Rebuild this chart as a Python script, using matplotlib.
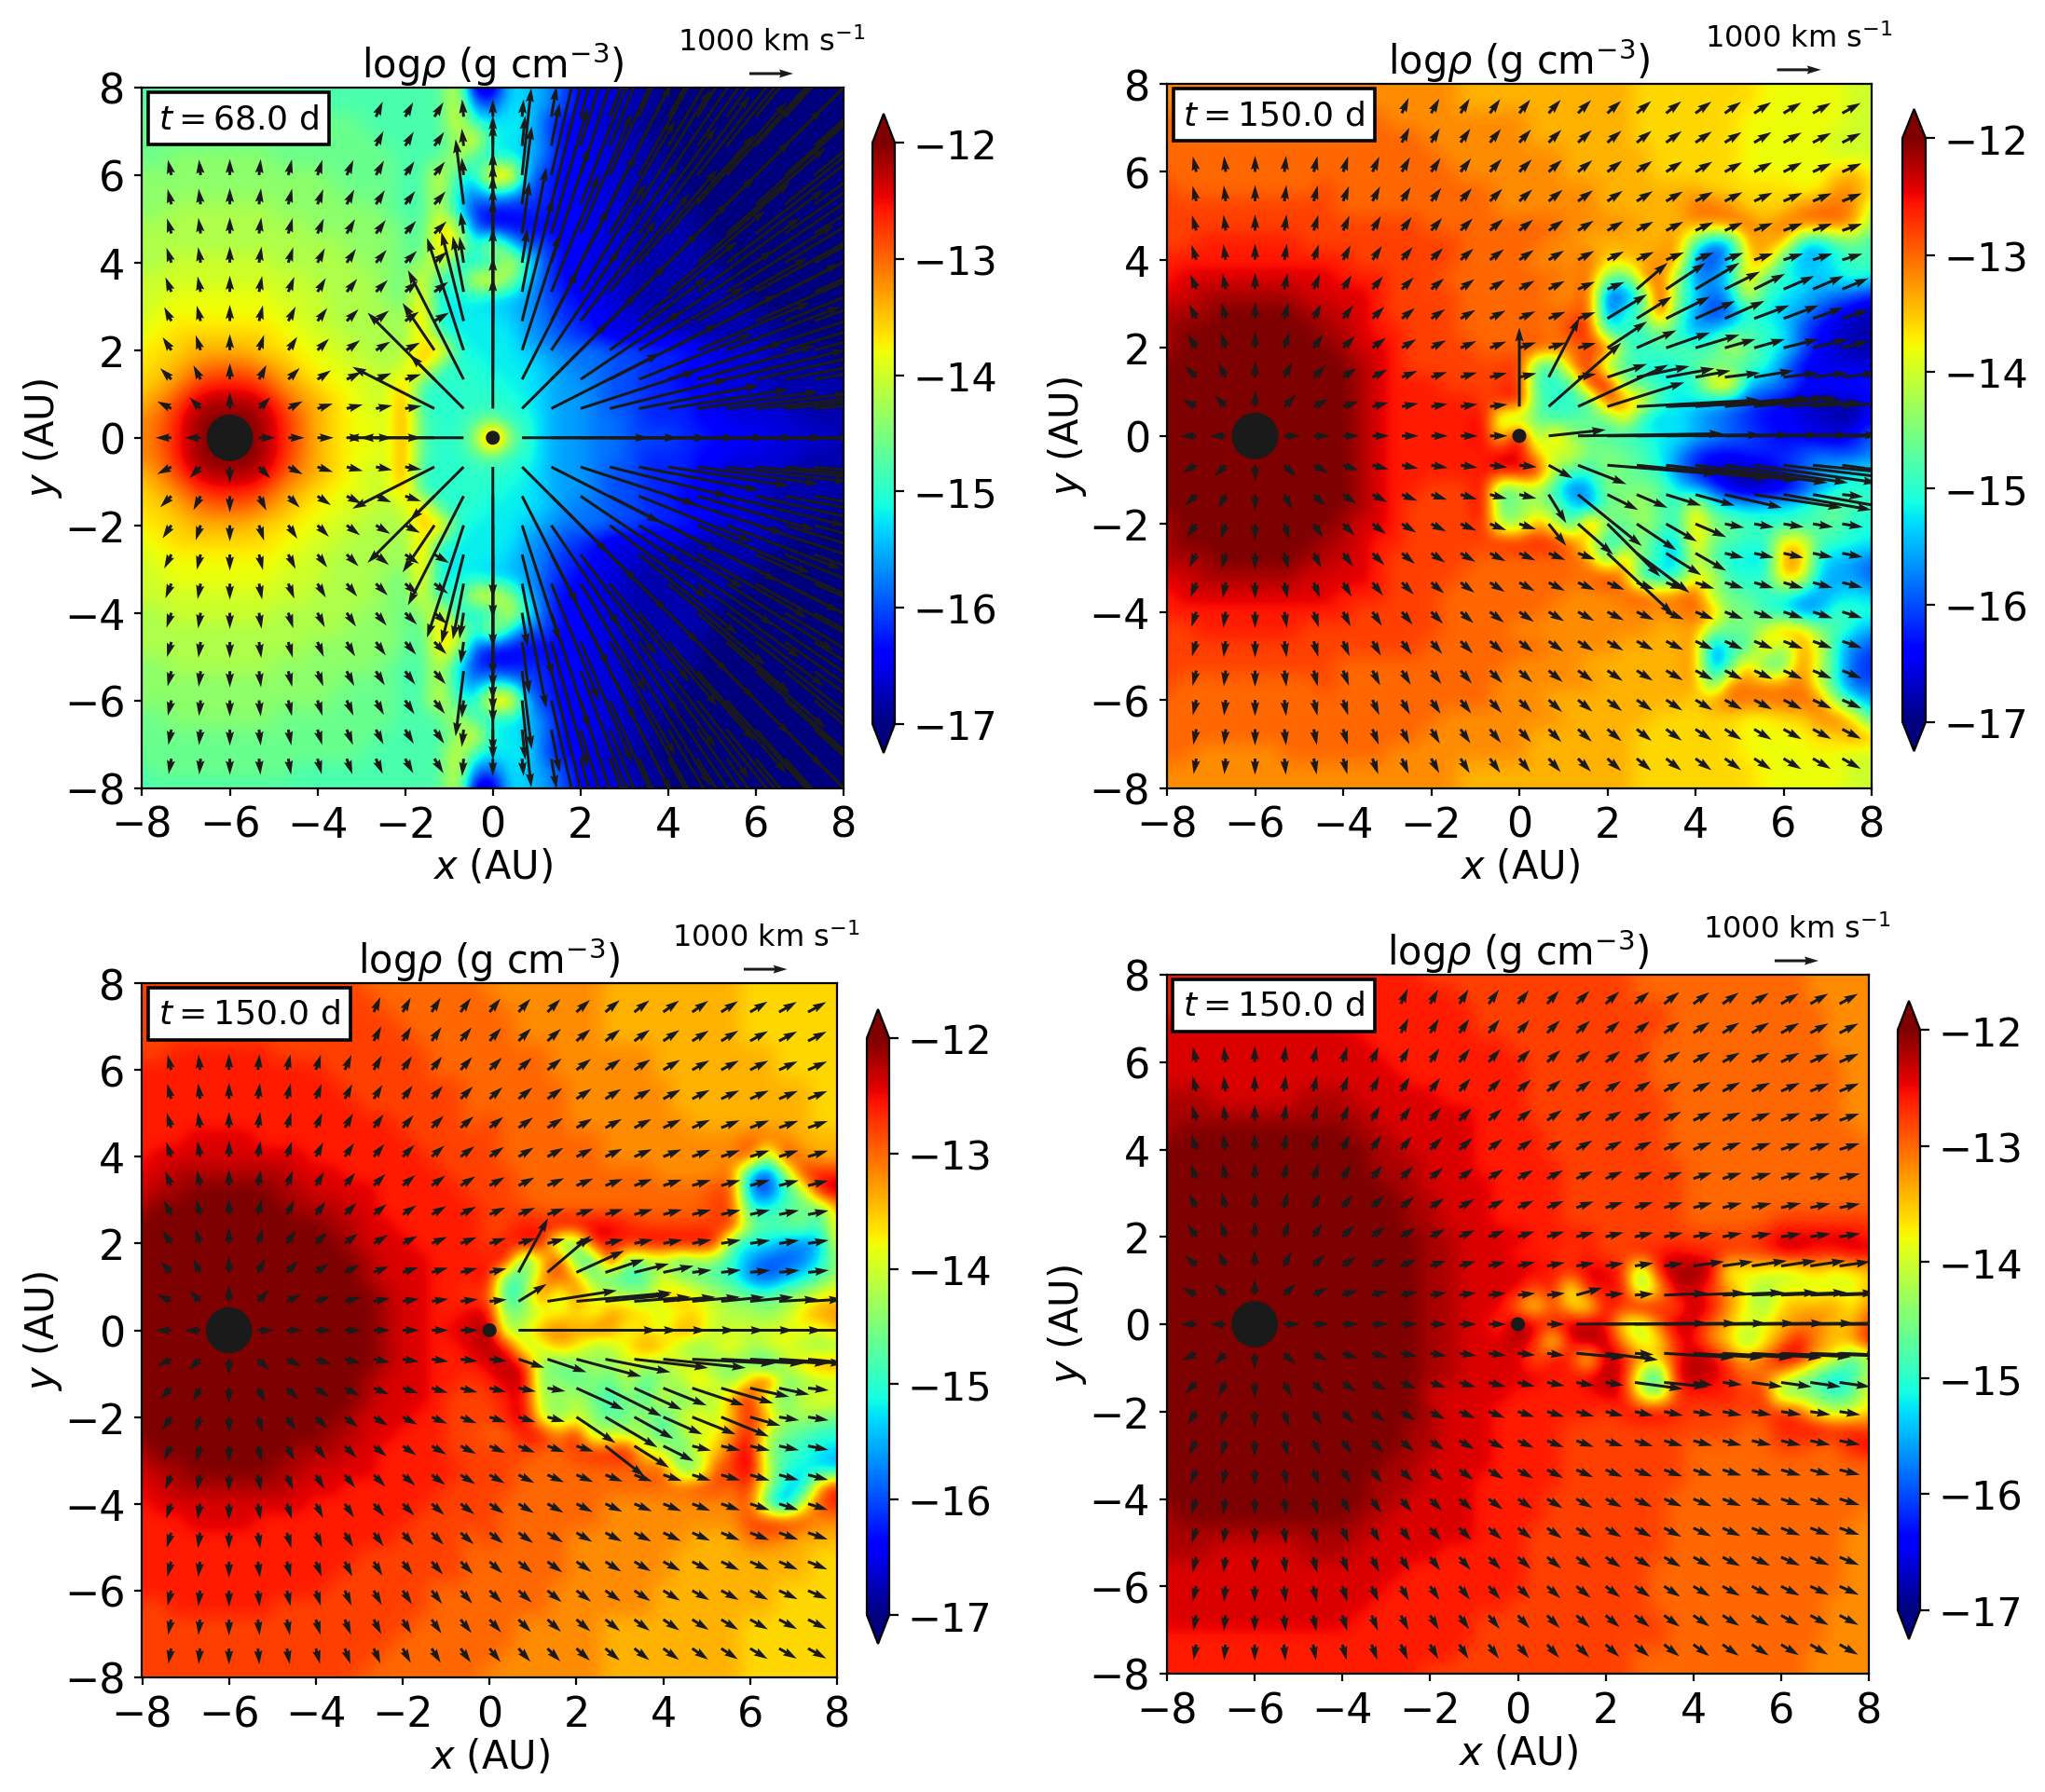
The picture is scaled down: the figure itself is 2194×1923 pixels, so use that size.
import numpy as np
import matplotlib
matplotlib.use("Agg")
import matplotlib.pyplot as plt

W, H = 2194, 1924
LOG_MIN, LOG_STEP = -17.0, 0.2   # a = -17.0, b = -16.8 ... z = -12.0
TICKS = [-8, -6, -4, -2, 0, 2, 4, 6, 8]
CB_TICKS = [-12, -13, -14, -15, -16, -17]
TIMES = ["68.0", "150.0", "150.0", "150.0"]

# log density, one letter per 0.4 AU, rows y = 8 ... -8, blocks of 2 AU
RHO1_TOP = [
    "lllll lllll lllll lllqb bjihf dccbb aaaaa aaaaa a",
    "lmmmm mmmml lllll lllqg fjihf dccbb aaaaa aaaaa a",
    "mmmmm mmmmm mmmll lllqk jjjfd dcbba aaaaa aaaaa a",
    "mmmmm mmmmm mmmml lllnr jjigd dccbb aaaaa aaaaa a",
    "mmnnn nnnmm mmmmm lllpk jjigd dccbb aaaaa aaaaa a",
    "nnnnn nnnnn nmmmm llqkj tthed dccbb baaaa aaaaa a",
    "nnnnn nnnnn nnmmm llpjg jifed dccbb baaaa aaaaa a",
    "nnooo ooonn nnnnm llpje ddeed dccbb bbaaa aaaaa a",
    "ooooo ooooo nnnnn mlrpf ddddd dccbb bbaaa aaaaa a",
    "ooooo ooooo oonnn mlsqj qjffd dccbb bbbaa aaaaa a",
    "ooppp pppoo ooonn mnqjj jqkfd dccbb bbbaa aaaaa a",
    "ppppp ppppp oooon mqkkq rnifd dccbb bbbba aaaaa a",
    "ppqqq qqqpp pooon mrjjj iihfe dccbb bbbbb aaaaa a",
    "pqqqq qqqqp poooo nsjjj jihge edccb bbbbb baaaa a",
    "qqrrr rrrqq ppooo nskjj jjhgf edccc cbbbb bbaaa a",
    "qrrss ssrrq qppoo ortkj jjihg ggffe eedcc cbbba a",
    "rrstu uutsr qqppo ptkkk jjjih ggffe eddcc cbbbb a",
    "rstvw wwvts rqqpp skkkk kjjih hgffe eddcc cbbbb b",
    "stvxy yyxvt srqpp tkkkk kkjih hgffe eedcc ccbbb b",
    "tuwyz zzywu srqqp tlkkl mkkih hggfe eeddc cccbb b",
    "tuwyz zzywu srqqp tlkkn ynkih hggff feedd dcccc b",
]
RHO1 = RHO1_TOP + RHO1_TOP[-2::-1]

RHO2 = [
    "ttttt ttttt ttttt ttsss sssss ssrrr rrrrq qqqqp p",
    "ttttt ttttt ttttt ttsss sssss ssrrr rrrrq qqqqp p",
    "uuttt ttuuu uuutt ttttt tssss ssrrr rrrqq qqqqp p",
    "uuuuu uuuuu uuuuu ttttt tssss ssrrr rrrqq qqqpp p",
    "uuuuu uuuuu uuuuu utttt tttss sssrr rrrqq qqqpp p",
    "uuuuu uuuuu uuuuu uuttt tttss sssrr rrrqq qqqrs q",
    "vuuuu uuuuv uuuuu uuuut ttttt sssss srrrr rqqtt r",
    "vvvvv vvvvv uuuuu uuuut ttttt sssss uutrr rtuut p",
    "vvvvv vvvvv vvvvv uuuuu uuutt ttsss ttuus uuuut n",
    "vvwww wwwvv vvvvv vvuuu uutts sssst lghts tjhlm k",
    "wwwww wwwww wvvvv vvuuu utttu rsstt geirt khijl l",
    "wxxxx xxxxx wwwvv vuuuu uuutu nktun ghjsl kjijk j",
    "xxyyy yyyxx xxwvv vvuuu uuttv egkxm jfiqk jihgf e",
    "yyyzz zzzyy xxwvv vvuuu uuuuv fklwl hefkj ihfdc b",
    "yzzzz zzzzy yxwwv vvuuu uutww jkknk hiklk jfdcb b",
    "yzzzz zzzzz yxxwv vvvuu uvutv wlkll llqmk jgdcb b",
    "zzzzz zzzzz zyxwv vvvvv wlkuw mlkjk lmklk gdccc c",
    "zzzzz zzzzz zyxww wvvvv wkkkx xmlkj kstih gedee e",
    "zzzzz zzzzz zyxww wwwvw xlkkk wtrkj jihfe dcbbb d",
    "zzzzz zzzzz zyxww wwwxn nmklm lrjij hgfed dccbb d",
    "zzzzz zzzzz zyxww wwwxq zmtnm lkkjj ihgfe ddccd g",
    "zzzzz zzzzz zyxww wwwwx xroqm nmljh eddee efgff g",
    "zzzzz zzzzz zyxww wwwwx xxolk nmlkg ecbbc efhij j",
    "zzzzz zzzzz zyxww vvvxk nokfh nmnmj hfcbb cehjk k",
    "zzzzz zzzzz zyxwv vvvxl nomjg mnolk rkjij jklml k",
    "yzzzz zzzzz yxxwv vvvwn ntpjw nlomk snmlk kklmj k",
    "yzzzz zzzzy yxwwv vvvvw wwwup jlnji smlkk rrlkk j",
    "yyyzz zzzyy xxwvv vvvuu uuuut ltmkh qljji ttjih g",
    "xxyyy yyyxx xxwvv vvuuu uuuuu wtjik qpkkk srihh f",
    "wxxxx xxxxx wwwvv vuuuu uuutt tuvtu vnmlk kihij i",
    "wwwww wwwww wvvvv vuuuu uuttt ttttt utmnk jghlk k",
    "vvwww wwwvv vvvvv vuuuu ttttt tttss tnmmp tsnlj h",
    "vvvvv vvvvv vvvvv uuuuu uuttt tssss tflkt mtqjg f",
    "vvvvv vvvvv uuuuu uuuuu tttts sssss tgktk lupkf e",
    "vuuuu uuuuv uuuuu uuuut ttttt sssss tkutt tupjf f",
    "uuuuu uuuuu uuuuu uuuut ttsss sssss rtuuu uuunj h",
    "uuuuu uuuuu uuuuu utttt tttss sssrr rrrqq rrtur k",
    "uuuuu uuuuu uuuuu ttttt tssss ssrrr rrrqq qqrrt s",
    "uuttt ttuuu uuutt ttttt tssss ssrrr rrrqq qqqqp p",
    "ttttt ttttt ttttt ttsss sssss ssrrr rrrrq qqqqp p",
    "ttttt ttttt ttttt ttsss sssss ssrrr rrrrq qqqqp p",
]

RHO3 = [
    "vvvvv vvvvv vvvuu uuuuu ttttt ttsss sssss rrrrr r",
    "vvvvv vvvvv vvvvu uuuuu utttt ttsss sssss rrrrr r",
    "vvvvv vvvvv vvvvv uuuuu uuttt ttsss sssss rrrrr r",
    "vvvvv vvvvv vvvvv vuuuu uuttt ttsss sssss rrrrr r",
    "vvwww wwwvv vvvvv vvuuu uuuut ttttt sssss ssrrr r",
    "wwwww wwwww wvvvv vvuuu uuuut ttttt sssss ssrrr r",
    "wwwww wwwww wwvvv vvvvu uuuuu ttttt tssss ssssr r",
    "wwwww wwwww wwwvv vvvvu uuuuu ttttt tssss ssssr r",
    "wwwww wwwww wwwww vvvvu vuuuu ttttt ttsss ssssr r",
    "wwwxx xxwww wwwww wvvvv vuuuu uuttt ttttt uutss s",
    "wxxxx xxxxx wwwww wwvvv vuuuu uuttt ttttt wmwts s",
    "xxyyy yyyyx xxwww wwwvv vvuuu uuuuu ttttu hemww w",
    "xyyzz zzzyy xxxxw wwwwv vvuuu uuuuu uuuvv geknx y",
    "yzzzz zzzzy yyxxw wwwww vvvuu uuuuu uuuvv kklml s",
    "zzzzz zzzzz zyyxx wwwww vvwwx xxxwv vvvvw nlmnk r",
    "zzzzz zzzzz zzyxx xwwww vwxxm lxwwx xxxxk jjhgh q",
    "zzzzz zzzzz zzzyx xxwww wxkqx lkxln olnmk hffgj n",
    "zzzzz zzzzz zzzyx xxwww xkltv tmlkl qnmlk gfhjl o",
    "zzzzz zzzzz zzzzy xxwwv vjmvn uqpon rsqon mlnoq r",
    "zzzzz zzzzz zzzzy xxwwx xmnpq rptsr pqrpo onort t",
    "zzzzz zzzzz zzzzy xxwxx znptu sutpr ptsop ppqqp s",
    "zzzzz zzzzz zzzzy xxwwx yxops rnort sompr npqon n",
    "zzzzz zzzzz zzzzy xxwww xyxnl monpo nqpnm njort t",
    "zzzzz zzzzz zzzyx xxwwv wxymo lnlpk onspn sxmno o",
    "zzzzz zzzzz zzzyx xxwvv vwxon pmknl qmnot xnmpq q",
    "zzzzz zzzzz zzyxx xwwvv vwypm pnlmo kpros wtnon m",
    "zzzzz zzzzz zyyxx wwwvv uuwxt xnpon lnpqt xomlk k",
    "yzzzz zzzzy yyxxw wwwvv vvvuu vwwxq plqrv ynlkj i",
    "xyyzz zzzyy xxxxw wwwwv vvuuu uuuuu vmmvv ypkji h",
    "xxyyy yyyyx xxwww wwwvv vvuuu uuuuu uuvvu wojht x",
    "wxxxx xxxxx wwwww wwvvv vuuuu uuttt ttttt vkfpv w",
    "wwwxx xxwww wwwww wvvvv vuuuu uuttt ttttt vwwvt t",
    "wwwww wwwww wwwww vvvvu vuuuu ttttt ttsss uutss s",
    "wwwww wwwww wwwvv vvvvu uuuuu ttttt tssss ssssr r",
    "wwwww wwwww wwvvv vvvvu uuuuu ttttt tssss ssssr r",
    "wwwww wwwww wvvvv vvuuu uuuut ttttt sssss ssrrr r",
    "vvwww wwwvv vvvvv vvuuu uuuut ttttt sssss ssrrr r",
    "vvvvv vvvvv vvvvv vuuuu uuttt ttsss sssss rrrrr r",
    "vvvvv vvvvv vvvvv uuuuu uuttt ttsss sssss rrrrr r",
    "vvvvv vvvvv vvvvu uuuuu utttt ttsss sssss rrrrr r",
    "vvvvv vvvvv vvvuu uuuuu ttttt ttsss sssss rrrrr r",
]

RHO4 = [
    "wwwww wwwww wwwww vvvvv vvvvv vvuuu uuuuu uuttt t",
    "wwwww wwwww wwwww wwvvv vvvvv vvuuu uuuuu uuttt t",
    "wwwww wwwww wwwww wwwvv vvvvv vvvvu uuuuu uuutt t",
    "xxxxx xxxxx xwwww wwwvv vvvvv vvvvu uuuuu uuutt t",
    "xxxxx xxxxx xxwww wwwww vvvvv vvvuu uuuuu uuutt t",
    "xxxxx xxxxx xxxww wwwww wvvvv vvvuu uuuuu uuuut t",
    "xxxxx xxxxx xxxxw wwwww wvvvv vvvuu uuuuu uuuut t",
    "yyyxx xxxyy yxxxx xwwww wvvvv vvvvu uuuuu uuuut t",
    "yyyyy yyyyy yyxxx xxxww wvvvv vvvvu uuuuu uuuut t",
    "yzzzz zzzzz zyyxx xxxww wwvvv vvvvu uuuuu uuuuu t",
    "zzzzz zzzzz zzyyx xxxww wwvvv vvvvu uuuuu uuuuu u",
    "zzzzz zzzzz zzyyy xxxww wwwvv vvvvv uuuuu uuuuu u",
    "zzzzz zzzzz zzzyy xxxxw wwwvv vvvvv uuuuu uuuuu u",
    "zzzzz zzzzz zzzzy yxxxw wwwvv vvvvv uuuuu uuuuu u",
    "zzzzz zzzzz zzzzy yxxxw wwwvv vvvvv uuuuu vvvvv v",
    "zzzzz zzzzz zzzzz yyxxx xwwww vvvvv vvvvw xxxxx w",
    "zzzzz zzzzz zzzzz yyxxx wwwvw vvwwx wwvvv xxwwx x",
    "zzzzz zzzzz zzzzz yyxxx xxwwx xwlxy zypqq oprpq r",
    "zzzzz zzzzz zzzzz yyxxx xuxox wxmry xvtqn qqpqp s",
    "zzzzz zzzzz zzzzz yyxxx tqvrp xvywu yxtqn rsstq t",
    "zzzzz zzzzz zzzzz yyxxv zxwyy xqnuy xuspq sturs v",
    "zzzzz zzzzz zzzzz yyxxx ywpxy ytpqw xtrnq txtss x",
    "zzzzz zzzzz zzzzz yyxxx xuxwp yxtrw yyvsu yxsqk n",
    "zzzzz zzzzz zzzzz yyxxx xxwwx yxnix yxwuu rnlik p",
    "zzzzz zzzzz zzzzz xxxxx wwwww xxpmv wwwvw mnmkl q",
    "zzzzz zzzzz zzzzz yxxxw wwwww vwxxw vvvvv wvqop r",
    "zzzzz zzzzz zzzzy yxxxw wwwvv vvvvv vvvuu wwxww v",
    "zzzzz zzzzz zzzzy yxxxw wwwvv vvvvv uuuuu vvuuw x",
    "zzzzz zzzzz zzzyy xxxxw wwwvv vvvvv uuuuu uuuuu u",
    "zzzzz zzzzz zzyyy xxxww wwwvv vvvvv uuuuu uuuuu u",
    "zzzzz zzzzz zzyyx xxxww wwvvv vvvvu uuuuu uuuuu u",
    "yzzzz zzzzz zyyxx xxxww wwvvv vvvvu uuuuu uuuuu t",
    "yyyyy yyyyy yyxxx xxxww wvvvv vvvvu uuuuu uuuut t",
    "yyyxx xxxyy yxxxx xwwww wvvvv vvvvu uuuuu uuuut t",
    "xxxxx xxxxx xxxxw wwwww wvvvv vvvuu uuuuu uuuut t",
    "xxxxx xxxxx xxxww wwwww wvvvv vvvuu uuuuu uuuut t",
    "xxxxx xxxxx xxwww wwwww vvvvv vvvuu uuuuu uuutt t",
    "xxxxx xxxxx xwwww wwwvv vvvvv vvvvu uuuuu uuutt t",
    "wwwww wwwww wwwww wwwvv vvvvv vvvvu uuuuu uuutt t",
    "wwwww wwwww wwwww wwvvv vvvvv vvuuu uuuuu uuttt t",
    "wwwww wwwww wwwww vvvvv vvvvv vvuuu uuuuu uuttt t",
]

# arrow direction in degrees on the 0.667 AU grid, rows |y| = 0 ... 7.33, columns x = -7.33 ... 7.33
ANG = [
    [180, 180, 0, 0, 0, 0, 0, 0, 0, 0, 0, 0, 0, 0, 0, 0, 0, 0, 0, 0, 0, 0, 0],
    [153, 135, 90, 45, 27, 18, 14, 11, 9, 8, 7, 6, 6, 5, 5, 4, 4, 4, 4, 3, 3, 3, 3],
    [135, 117, 90, 63, 45, 34, 27, 22, 18, 16, 14, 13, 11, 10, 9, 9, 8, 8, 7, 7, 6, 6, 6],
    [124, 108, 90, 72, 56, 45, 37, 31, 27, 23, 21, 18, 17, 15, 14, 13, 12, 11, 11, 10, 9, 9, 9],
    [117, 104, 90, 76, 63, 53, 45, 39, 34, 30, 27, 24, 22, 20, 18, 17, 16, 15, 14, 13, 13, 12, 11],
    [112, 101, 90, 79, 68, 59, 51, 45, 40, 36, 32, 29, 27, 24, 23, 21, 20, 18, 17, 16, 16, 15, 14],
    [108, 99, 90, 81, 72, 63, 56, 50, 45, 41, 37, 34, 31, 29, 27, 25, 23, 22, 21, 19, 18, 18, 17],
    [106, 98, 90, 82, 74, 67, 60, 54, 49, 45, 41, 38, 35, 32, 30, 28, 27, 25, 24, 22, 21, 20, 19],
    [104, 97, 90, 83, 76, 69, 63, 58, 53, 49, 45, 42, 39, 36, 34, 32, 30, 28, 27, 25, 24, 23, 22],
    [103, 96, 90, 84, 77, 72, 66, 61, 56, 52, 48, 45, 42, 39, 37, 35, 33, 31, 29, 28, 27, 25, 24],
    [101, 96, 90, 84, 79, 73, 68, 63, 59, 55, 51, 48, 45, 42, 40, 38, 36, 34, 32, 31, 29, 28, 27],
    [100, 95, 90, 85, 80, 75, 70, 66, 61, 58, 54, 51, 48, 45, 42, 40, 38, 36, 35, 33, 31, 30, 29],
]
# usual arrow length in AU per column (1 AU on the page = 1000 km/s)
SPEED = [0.36, 0.36, 0.37, 0.37, 0.37, 0.37, 0.38, 0.38, 0.38, 0.39, 0.40, 0.40, 0.41, 0.42,
         0.42, 0.43, 0.44, 0.45, 0.45, 0.46, 0.47, 0.47, 0.48]

# panel 1: arrows from the companion, rows |y| = 0 ... 7.33, columns x = -1.33 ... 7.33,
# length in tenths of AU (base 36), 0 keeps the usual arrow
SPEED1 = [
    "hr0ttttttttttt",
    "lvusssssssssss",
    "8sssssssssssss",
    "drssssssssssss",
    "0lsttttttttttt",
    "0dottttttttttt",
    "06k8ssssssssss",
    "05gcuuuuuuuuuu",
    "0fcivvvvvvvvvv",
    "04ckwwwwwwwwww",
    "0477awwwwwwwww",
    "04447awwwwwwww",
]

# other panels: arrows that stand out, (column, row, dx, dy) with x = 0.667 column, y = 0.667 row
LONG2 = [
    (0, 1, 0, 1.8), (1, 2, .7, 1.35), (1, 1, 1.65, 1.45), (2, 1, 2.05, .95), (3, 1, 1.75, .55),
    (4, 1, 2.8, .15), (5, 1, 2.7, .1), (6, 1, 2.6, .2), (7, 1, 2.3, .2), (8, 1, 1.9, .2),
    (9, 1, 1.4, .1), (10, 1, 1.1, .1), (11, 1, 1, .1),
    (1, 0, 1.3, .14), (2, 0, 3.3, .05), (3, 0, 3.5, .02), (4, 0, 3.5, .02), (5, 0, 3.5, .02),
    (6, 0, 3.5, .02), (7, 0, 3.5, .02), (8, 0, 3.5, .02), (9, 0, 3.5, .02), (10, 0, 3.5, 0), (11, 0, 3.5, 0),
    (1, -1, .55, -.3), (2, -1, 1.1, -.43), (3, -1, 2.5, -.2), (4, -1, 3, -.3), (5, -1, 3, -.35),
    (6, -1, 3, -.4), (7, -1, 2.8, -.4), (8, -1, 2.8, -.4), (9, -1, 2.5, -.3), (10, -1, 2, -.2), (11, -1, 1.5, -.2),
    (3, 2, .9, .3), (4, 2, 1.2, .25), (5, 2, 1.1, .2), (6, 2, .8, .15), (7, 2, .8, .1), (8, 2, .9, .15),
    (9, 2, .8, .1), (10, 2, .8, .1), (11, 2, .8, .1),
    (3, 3, .9, .6), (4, 3, .9, .4), (5, 3, 1, .35), (6, 3, 1, .3), (7, 3, .7, .2), (8, 3, .7, .2),
    (9, 3, .8, .2), (10, 3, .8, .2), (11, 3, .6, .15),
    (3, 4, .9, .55), (4, 4, .8, .5), (5, 4, 1, .5), (6, 4, .9, .4), (7, 4, .9, .4), (8, 4, .8, .3),
    (9, 4, .8, .3), (10, 4, .7, .25), (11, 4, .6, .2),
    (4, 5, .7, .6), (5, 5, .9, .6), (6, 5, 1, .6), (7, 5, .8, .4), (8, 5, .7, .35), (9, 5, .7, .3),
    (10, 5, .7, .3), (11, 5, .6, .25),
    (1, -2, .4, -.65), (2, -2, 1.45, -1.17), (3, -2, .7, -.35), (4, -2, .7, -.3), (5, -2, .8, -.25),
    (6, -2, .9, -.25), (7, -2, 1.3, -.3), (8, -2, 2, -.3), (9, -2, 2, -.35), (10, -2, 1.7, -.3),
    (1, -3, .4, -.5), (2, -3, .8, -.7), (3, -3, 1.2, -1.2), (4, -3, .9, -.6), (5, -3, .7, -.4), (6, -3, .7, -.3),
    (3, -4, 1.5, -1.4), (4, -4, 1.2, -.9), (5, -4, .8, -.5), (6, -4, .7, -.4),
]
LONG3 = [
    (1, 0, 3.2, 0), (2, 0, 3, 0), (3, 0, 3, 0), (4, 0, 3, 0), (5, 0, 3, 0), (6, 0, 3, 0), (7, 0, 3, 0),
    (8, 0, 3, 0), (9, 0, 3, 0), (10, 0, 3, 0), (11, 0, 3, 0),
    (1, 1, .65, .4), (2, 1, 1.6, .25), (3, 1, 2.2, .2), (4, 1, 1.5, .15), (5, 1, 1.3, .1), (6, 1, 1.2, .1),
    (7, 1, 1.1, .1), (8, 1, 1, .1), (9, 1, 1, .1), (10, 1, .9, .05), (11, 1, .8, .05),
    (1, 2, .68, 1.25), (2, 2, 1, .85), (3, 2, 1.1, .5), (4, 2, .9, .3), (5, 2, .8, .2), (6, 2, .7, .15),
    (1, -1, .6, -.2), (2, -1, .9, -.3), (3, -1, 1.5, -.4), (4, -1, 1.5, -.3), (5, -1, 1.7, -.2),
    (6, -1, 1.9, -.2), (7, -1, 1.9, -.1), (8, -1, 1.9, -.1), (9, -1, 1.8, -.1), (10, -1, 1.5, -.1), (11, -1, 1, -.1),
    (3, -2, 1.1, -.5), (4, -2, 1.3, -.65), (5, -2, 1.1, -.5), (6, -2, 1, -.4), (7, -2, 1.2, -.4),
    (8, -2, 1.2, -.35), (9, -2, .9, -.2), (10, -2, .7, -.15),
    (3, -3, .9, -.6), (4, -3, 1.2, -.7), (5, -3, .9, -.5), (6, -3, .9, -.4), (7, -3, 1, -.4), (8, -3, 1.1, -.45), (9, -3, .7, -.2),
    (4, -4, .9, -.7), (5, -4, .8, -.5), (6, -4, .7, -.35),
]
LONG4 = [
    (1, 0, .4, 0), (2, 0, 3, .02), (3, 0, 3, .02), (4, 0, 3, .02), (5, 0, 3, .02), (6, 0, 3, .02),
    (7, 0, 3, .02), (8, 0, 3, .02), (9, 0, 3, .02), (10, 0, 3, .02), (11, 0, 3, 0),
    (2, 1, .6, .17), (5, 1, 1, .04), (6, 1, 1.2, .05), (7, 1, 1.4, .06), (8, 1, 1.5, .06), (9, 1, 1.5, .06),
    (10, 1, 1.5, .05), (11, 1, 1.2, .04),
    (1, -1, .4, -.05), (2, -1, 1.1, -.1), (3, -1, 1.2, -.15), (5, -1, 1.6, -.1), (6, -1, 1.6, -.1),
    (7, -1, 1.6, -.1), (8, -1, 1.6, -.1), (9, -1, 1.6, -.08), (10, -1, 1.6, -.06), (11, -1, 1.2, -.05),
    (6, 2, .7, .1), (7, 2, .7, .1), (8, 2, .8, .12), (9, 2, .8, .12), (10, 2, .8, .12), (11, 2, .7, .1),
    (4, -2, 1.1, -.15), (5, -2, 1, -.1), (8, -2, .7, -.1), (9, -2, .7, -.1), (10, -2, .7, -.1), (11, -2, .7, -.1),
]

# pixel boxes (left, top, right, bottom) of the axes and colour bars in the full picture
AX_BOX = [(152.5, 95, 905, 846.5), (1252, 91, 2008, 846.5), (152.5, 1056, 898, 1801), (1252, 1047, 2005, 1797)]
CB_BOX = [(936, 123, 960, 809), (2041, 118, 2066, 807), (930, 1084, 954, 1765), (2036, 1075, 2060, 1760)]
BOX_LEFT = [-3.33, -2.67, -2.67, -2.67]


def decode(rows):
    return np.array([[LOG_MIN + LOG_STEP * (ord(c) - 97) for c in r.replace(" ", "")[:41].ljust(41, "a")]
                     for r in rows])


def to_axes(box):
    left, top, right, bottom = box
    return [left / W, 1 - bottom / H, (right - left) / W, (bottom - top) / H]


def arrows(panel, long_list):
    grid = {}
    step = 16 / 24
    for j in range(-11, 12):
        for m in range(-11, 12):
            if m == 0 and j == 0:
                continue
            if j >= 10 and m * step < BOX_LEFT[panel]:
                continue
            ang = ANG[abs(j)][m + 11]
            length = SPEED[m + 11]
            if panel == 0 and m >= -2:
                c = SPEED1[abs(j)][m + 2]
                if c != "0":
                    length = int(c, 36) / 10
                    ang = ANG[abs(j)][m + 2]
            ang = -ang if j < 0 else ang
            grid[(m, j)] = (length * np.cos(np.radians(ang)), length * np.sin(np.radians(ang)))
    for m, j, dx, dy in long_list:
        grid[(m, j)] = (dx, dy)
    keys = list(grid)
    x = np.array([k[0] * step for k in keys])
    y = np.array([k[1] * step for k in keys])
    u = np.array([grid[k][0] for k in keys])
    v = np.array([grid[k][1] for k in keys])
    return x, y, u, v


plt.rcParams.update({"font.size": 15, "mathtext.default": "it"})
fig = plt.figure(figsize=(W / 200, H / 200), dpi=200)

panels = [RHO1, RHO2, RHO3, RHO4]
longs = [[], LONG2, LONG3, LONG4]
for i in range(4):
    ax = fig.add_axes(to_axes(AX_BOX[i]))
    im = ax.imshow(decode(panels[i]), extent=(-8.2, 8.2, -8.2, 8.2), cmap="jet", vmin=-17, vmax=-12,
                   interpolation="bicubic", aspect="auto", origin="upper")
    x, y, u, v = arrows(i, longs[i])
    q = ax.quiver(x, y, u, v, angles="xy", scale_units="xy", scale=1, pivot="tail", color="#1a1a1a",
                  width=0.004, headwidth=3, headlength=5, zorder=3)
    ax.add_patch(plt.Circle((-6, 0), 0.5, color="#1a1a1a", zorder=5))
    ax.add_patch(plt.Circle((0, 0), 0.13, color="#1a1a1a", zorder=5))
    ax.set_xlim(-8, 8)
    ax.set_ylim(-8, 8)
    ax.set_xticks(TICKS)
    ax.set_yticks(TICKS)
    ax.tick_params(labelsize=16, length=3)
    ax.set_xlabel("$x$ (AU)", fontsize=15, labelpad=1)
    ax.set_ylabel("$y$ (AU)", fontsize=15, labelpad=0)
    ax.set_title(r"log$\rho$ (g cm$^{-3}$)", fontsize=15, pad=4)
    ax.text(0.023, 0.956, f"$t = ${TIMES[i]} d", transform=ax.transAxes, fontsize=13, va="center", ha="left",
            zorder=6, bbox=dict(boxstyle="square,pad=0.3", fc="white", ec="black", lw=1.3))
    ax.quiverkey(q, 0.897, 1.02, 1, r"1000 km s$^{-1}$", labelpos="N", coordinates="axes",
                 labelsep=0.09, fontproperties={"size": 11.5})
    cax = fig.add_axes(to_axes(CB_BOX[i]))
    cb = fig.colorbar(im, cax=cax, extend="both", ticks=CB_TICKS)
    cb.ax.tick_params(labelsize=15.5)

fig.savefig("out.png", dpi=200)
